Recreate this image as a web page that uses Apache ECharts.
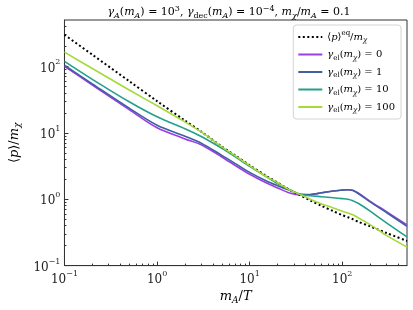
<!DOCTYPE html>
<html>
<head>
<meta charset="utf-8">
<script src="https://cdn.jsdelivr.net/npm/echarts@6/dist/echarts.min.js"></script>
<style>html,body{margin:0;padding:0;background:#fff}#c{width:413px;height:310px}</style>
</head>
<body>
<div id="c"></div>
<script>
// x values (m_A/T)
var xVals = [0.1, 0.2, 0.5, 1, 2, 3, 5, 7, 10, 15, 20, 27, 35, 45, 60, 80, 100, 115, 130, 150, 200, 300, 500];
// <p>^eq / m_chi
var eqVals = [300, 150, 60, 30, 15.3, 10.4, 6.2, 4.55, 3.25, 2.25, 1.78, 1.38, 1.15, 0.96, 0.79, 0.66, 0.575, 0.535, 0.5, 0.455, 0.39, 0.31, 0.235];
// gamma_el = 0
var g0Vals = [100, 52.5, 22.3, 11.9, 8.1, 6.6, 4.33, 3.22, 2.37, 1.77, 1.48, 1.24, 1.16, 1.17, 1.25, 1.33, 1.37, 1.39, 1.36, 1.23, 0.93, 0.65, 0.41];
// gamma_el = 1
var g1Vals = [104, 54.6, 23.5, 13.0, 8.9, 7.0, 4.58, 3.44, 2.54, 1.9, 1.6, 1.36, 1.2, 1.18, 1.25, 1.33, 1.37, 1.39, 1.35, 1.21, 0.91, 0.63, 0.39];
// gamma_el = 10
var g10Vals = [119, 63.8, 29.3, 17.4, 11.5, 8.8, 5.85, 4.35, 3.12, 2.2, 1.72, 1.39, 1.19, 1.13, 1.09, 1.05, 1.02, 1.0, 0.95, 0.86, 0.66, 0.44, 0.27];
// gamma_el = 100
var g100Vals = [164, 92.9, 44.2, 25.6, 14.6, 10.3, 6.15, 4.5, 3.2, 2.2, 1.77, 1.38, 1.18, 1.0, 0.85, 0.74, 0.66, 0.62, 0.585, 0.52, 0.415, 0.285, 0.19];

var minorX = [0.2,0.3,0.4,0.5,0.6,0.7,0.8,0.9,2,3,4,5,6,7,8,9,20,30,40,50,60,70,80,90,200,300,400];
var minorY = [0.2,0.3,0.4,0.5,0.6,0.7,0.8,0.9,2,3,4,5,6,7,8,9,20,30,40,50,60,70,80,90,200,300,400];

var serif = "DejaVu Serif";
function mkRich(fs, sfs) {
  return {
    n: {fontFamily: serif, fontSize: fs, color: '#000', lineHeight: fs + 4, verticalAlign: 'middle'},
    i: {fontFamily: serif, fontSize: fs, fontStyle: 'italic', color: '#000', lineHeight: fs + 4, verticalAlign: 'middle'},
    sub: {fontFamily: serif, fontSize: sfs, color: '#000', lineHeight: sfs + 1, verticalAlign: 'bottom'},
    subi: {fontFamily: serif, fontSize: sfs, fontStyle: 'italic', color: '#000', lineHeight: sfs + 1, verticalAlign: 'bottom'},
    sup: {fontFamily: serif, fontSize: sfs, color: '#000', lineHeight: sfs + 1, verticalAlign: 'top'}
  };
}
var titleRich = mkRich(11, 8);
var legendRich = mkRich(10, 7);
var tickRich = {
  b: {fontFamily: serif, fontSize: 12, color: '#222', lineHeight: 16, verticalAlign: 'bottom'},
  s: {fontFamily: serif, fontSize: 8, color: '#222', lineHeight: 9, verticalAlign: 'top'}
};
function tickFmt(v) {
  var e = Math.log10(v);
  var r = Math.round(e);
  if (Math.abs(e - r) > 1e-6) return '';
  return '{b|10}{s|' + (r < 0 ? '\u2212' + (-r) : r) + '}';
}

var names = ['eq', 'g0', 'g1', 'g10', 'g100'];
var legendText = {
  eq: '{n|\u27e8}{i|p}{n|\u27e9}{sup|eq}{n|/}{i|m}{subi|\u03c7}',
  g0: '{i|\u03b3}{sub|el}{n|(}{i|m}{subi|\u03c7}{n|) = 0}',
  g1: '{i|\u03b3}{sub|el}{n|(}{i|m}{subi|\u03c7}{n|) = 1}',
  g10: '{i|\u03b3}{sub|el}{n|(}{i|m}{subi|\u03c7}{n|) = 10}',
  g100: '{i|\u03b3}{sub|el}{n|(}{i|m}{subi|\u03c7}{n|) = 100}'
};
function pairs(ys) { return xVals.map(function (x, k) { return [x, ys[k]]; }); }
var nameRich = {
  n: {fontFamily: serif, fontSize: 13, color: '#000', lineHeight: 16},
  i: {fontFamily: serif, fontSize: 13, fontStyle: 'italic', color: '#000', lineHeight: 16},
  subi: {fontFamily: serif, fontSize: 9, fontStyle: 'italic', color: '#000', lineHeight: 10, verticalAlign: 'bottom'}
};

var chart = echarts.init(document.getElementById('c'));
chart.setOption({
  animation: false,
  backgroundColor: '#fff',
  grid: {left: 52, right: 6, top: 20, bottom: 38, show: true, borderColor: '#333', borderWidth: 1, containLabel: false},
  graphic: [{
    type: 'text', x: 229, y: 5,
    style: {
      text: '{i|\u03b3}{subi|A}{n|(}{i|m}{subi|A}{n|) = 10}{sup|3}{n|, }{i|\u03b3}{sub|dec}{n|(}{i|m}{subi|A}{n|) = 10}{sup|\u22124}{n|, }{i|m}{subi|\u03c7}{n|/}{i|m}{subi|A}{n| = 0.1}',
      rich: titleRich, align: 'center', verticalAlign: 'top'
    }
  }],
  xAxis: [{
    type: 'log', logBase: 10, min: 0.1, max: 500,
    name: '{i|m}{subi|A}{n|/}{i|T}', nameLocation: 'middle', nameGap: 18,
    nameTextStyle: {rich: nameRich},
    axisLine: {show: true, onZero: false, lineStyle: {color: '#333'}},
    axisTick: {show: true, inside: true, length: 4, lineStyle: {color: '#333'}},
    axisLabel: {formatter: tickFmt, rich: tickRich, margin: 4, showMaxLabel: false},
    splitLine: {show: false}
  }, {
    type: 'value', min: -1, max: Math.log10(500), position: 'bottom',
    axisLine: {show: false, onZero: false},
    axisTick: {show: true, inside: true, length: 2, customValues: minorX.map(Math.log10), lineStyle: {color: '#333'}},
    axisLabel: {show: false}, splitLine: {show: false}
  }],
  yAxis: [{
    type: 'log', logBase: 10, min: 0.1, max: 500,
    name: '{n|\u27e8}{i|p}{n|\u27e9/}{i|m}{subi|\u03c7}', nameLocation: 'middle', nameGap: 33, nameRotate: 90,
    nameTextStyle: {rich: nameRich},
    axisLine: {show: true, onZero: false, lineStyle: {color: '#333'}},
    axisTick: {show: true, inside: true, length: 4, lineStyle: {color: '#333'}},
    axisLabel: {formatter: tickFmt, rich: tickRich, margin: 4, showMaxLabel: false},
    splitLine: {show: false}
  }, {
    type: 'value', min: -1, max: Math.log10(500), position: 'left',
    axisLine: {show: false, onZero: false},
    axisTick: {show: true, inside: true, length: 2, customValues: minorY.map(Math.log10), lineStyle: {color: '#333'}},
    axisLabel: {show: false}, splitLine: {show: false}
  }],
  legend: {
    data: names, orient: 'vertical', right: 12, top: 25,
    backgroundColor: '#fff', borderColor: '#d4d4d4', borderWidth: 1, borderRadius: 3,
    padding: [5, 6, 5, 4], itemWidth: 24, itemHeight: 10, itemGap: 5.5,
    itemStyle: {opacity: 0},
    formatter: function (n) { return legendText[n]; },
    textStyle: {rich: legendRich}
  },
  series: [
    {name: 'eq', type: 'line', data: pairs(eqVals), showSymbol: false, symbol: 'none', smooth: 0.3, z: 5,
     lineStyle: {color: '#000', width: 2, type: [2, 2.5]}, itemStyle: {color: '#000'}},
    {name: 'g0', type: 'line', data: pairs(g0Vals), showSymbol: false, symbol: 'none', smooth: 0.3,
     lineStyle: {color: '#9a3de8', width: 1.6}, itemStyle: {color: '#9a3de8'}},
    {name: 'g1', type: 'line', data: pairs(g1Vals), showSymbol: false, symbol: 'none', smooth: 0.3,
     lineStyle: {color: '#3f5f9e', width: 1.6}, itemStyle: {color: '#3f5f9e'}},
    {name: 'g10', type: 'line', data: pairs(g10Vals), showSymbol: false, symbol: 'none', smooth: 0.3,
     lineStyle: {color: '#22a08c', width: 1.6}, itemStyle: {color: '#22a08c'}},
    {name: 'g100', type: 'line', data: pairs(g100Vals), showSymbol: false, symbol: 'none', smooth: 0.3, z: 6,
     lineStyle: {color: '#a4da3c', width: 1.6}, itemStyle: {color: '#a4da3c'}}
  ]
});
</script>
</body>
</html>
